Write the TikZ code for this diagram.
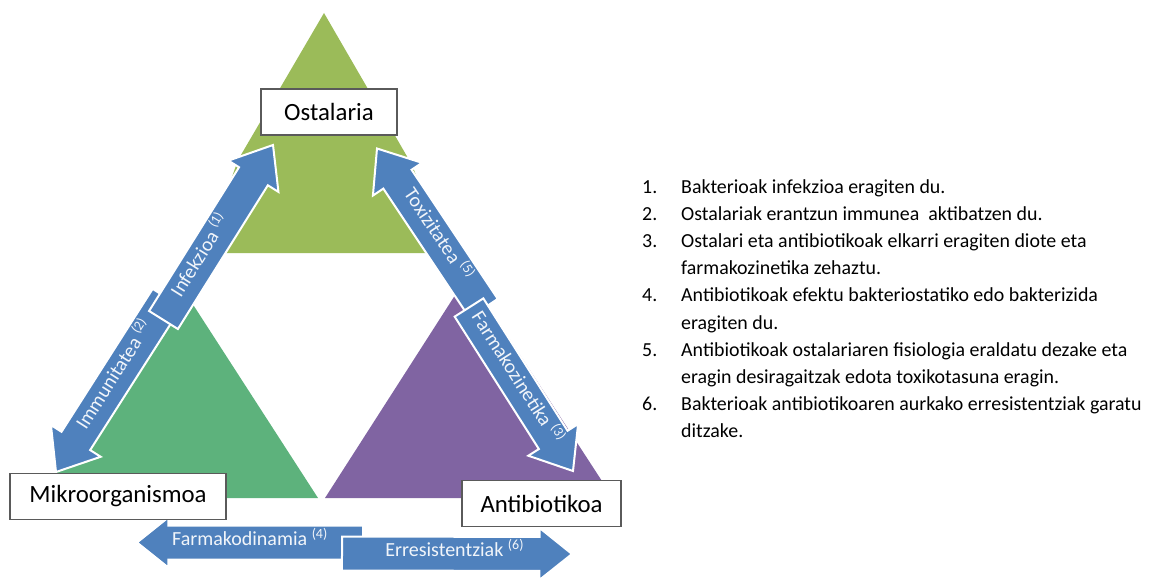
\documentclass[tikz,border=0pt]{standalone}
\usepackage{fontspec}
\setmainfont{Carlito}
\usetikzlibrary{calc}
\definecolor{hostolive}{HTML}{9BBB59}
\definecolor{microgreen}{HTML}{5DB27C}
\definecolor{antipurple}{HTML}{8064A2}
\definecolor{arrowblue}{HTML}{4F81BD}
\definecolor{boxgray}{HTML}{5A5A5A}
\tikzset{
  arrowfill/.style={fill=arrowblue, draw=white, line width=2pt},
  agent/.style={draw=boxgray, fill=white, line width=1.1pt, inner sep=0pt,
    minimum height=46pt, font=\fontsize{24.8}{28}\selectfont},
  lbl/.style={text=white!92!arrowblue, inner sep=0pt, text height=0.64em,
    text depth=0pt, font=\fontsize{20}{24}\selectfont},
}
% block arrow: tail, tip, half width of the head
\newcommand\blockarrow[3]{%
  \coordinate (hb) at ($(#2)!1.25*#3!(#1)$);
  \filldraw[arrowfill] ($(#1)!17pt!90:(#2)$) -- ($(hb)!17pt!90:(#2)$)
    -- ($(hb)!#3!90:(#2)$) -- (#2) -- ($(hb)!#3!-90:(#2)$)
    -- ($(hb)!17pt!-90:(#2)$) -- ($(#1)!17pt!-90:(#2)$) -- cycle;
}
\begin{document}
\begin{tikzpicture}[x=1pt, y=-1pt, line join=miter]
  \useasboundingbox (0,0) rectangle (1153,578);
  % triangles (corners end under the arrows)
  \fill[hostolive] (324,13) -- (238,160) -- (205,253) -- (447,253) -- (412,165) -- cycle;
  \fill[microgreen] (181,286) -- (40,498) -- (318,498) -- cycle;
  \fill[antipurple] (468,275) -- (325,498) -- (613,498) -- cycle;
  % arrow ends
  \coordinate (t1) at (163.5,320); \coordinate (h1) at (273,145);
  \coordinate (t2) at (167,298);   \coordinate (h2) at (56,472);
  \coordinate (t3) at (469,307.5); \coordinate (h3) at (573,471);
  \coordinate (t4) at (363,542.5); \coordinate (h4) at (137,542.5);
  \coordinate (t5) at (483.6,308.3); \coordinate (h5) at (377,148.5);
  \coordinate (t6) at (342,553.5); \coordinate (h6) at (572,554);
  \blockarrow{t2}{h2}{29.5pt}
  \blockarrow{t1}{h1}{29.5pt}
  \blockarrow{t5}{h5}{29.5pt}
  \blockarrow{t3}{h3}{29.5pt}
  \blockarrow{t4}{h4}{25pt}
  \blockarrow{t6}{h6}{26pt}
  % labels
  \path (t1) -- node[lbl, sloped, pos=.36] (infek) {Infekzioa \textsuperscript{(1)}} (h1);
  \path (t2) -- node[lbl, sloped, pos=.45] (immun) {Immunitatea \textsuperscript{(2)}} (h2);
  \path (t3) -- node[lbl, sloped, pos=.44] (fzin) {Farmakozinetika \textsuperscript{(3)}} (h3);
  \path (t4) -- node[lbl, pos=.5] (fdin) {Farmakodinamia \textsuperscript{(4)}} (h4);
  \path (t5) -- node[lbl, sloped, pos=.45] (toxi) {Toxizitatea \textsuperscript{(5)}} (h5);
  \path (t6) -- node[lbl, pos=.49] (erres) {Erresistentziak \textsuperscript{(6)}} (h6);
  % boxes
  \node[agent, minimum width=136pt] (host) at (329,112) {Ostalaria};
  \node[agent, minimum width=216pt] (micro) at (118,496.5) {Mikroorganismoa};
  \node[agent, minimum width=159pt] (anti) at (541.5,503.5) {Antibiotikoa};
  % list
  \node[anchor=base west, inner sep=0pt, font=\fontsize{19.9}{27.2}\selectfont] (legend) at (642,193)
    {\begin{tabular}[t]{@{}p{39pt}@{}l@{}}
      1. & Bakterioak infekzioa eragiten du.\\
      2. & Ostalariak erantzun immunea~ aktibatzen du.\\
      3. & Ostalari eta antibiotikoak elkarri eragiten diote eta\\
         & farmakozinetika zehaztu.\\
      4. & Antibiotikoak efektu bakteriostatiko edo bakterizida\\
         & eragiten du.\\
      5. & Antibiotikoak ostalariaren fisiologia eraldatu dezake eta\\
         & eragin desiragaitzak edota toxikotasuna eragin.\\
      6. & Bakterioak antibiotikoaren aurkako erresistentziak garatu\\
         & ditzake.
    \end{tabular}};
\end{tikzpicture}
\end{document}
